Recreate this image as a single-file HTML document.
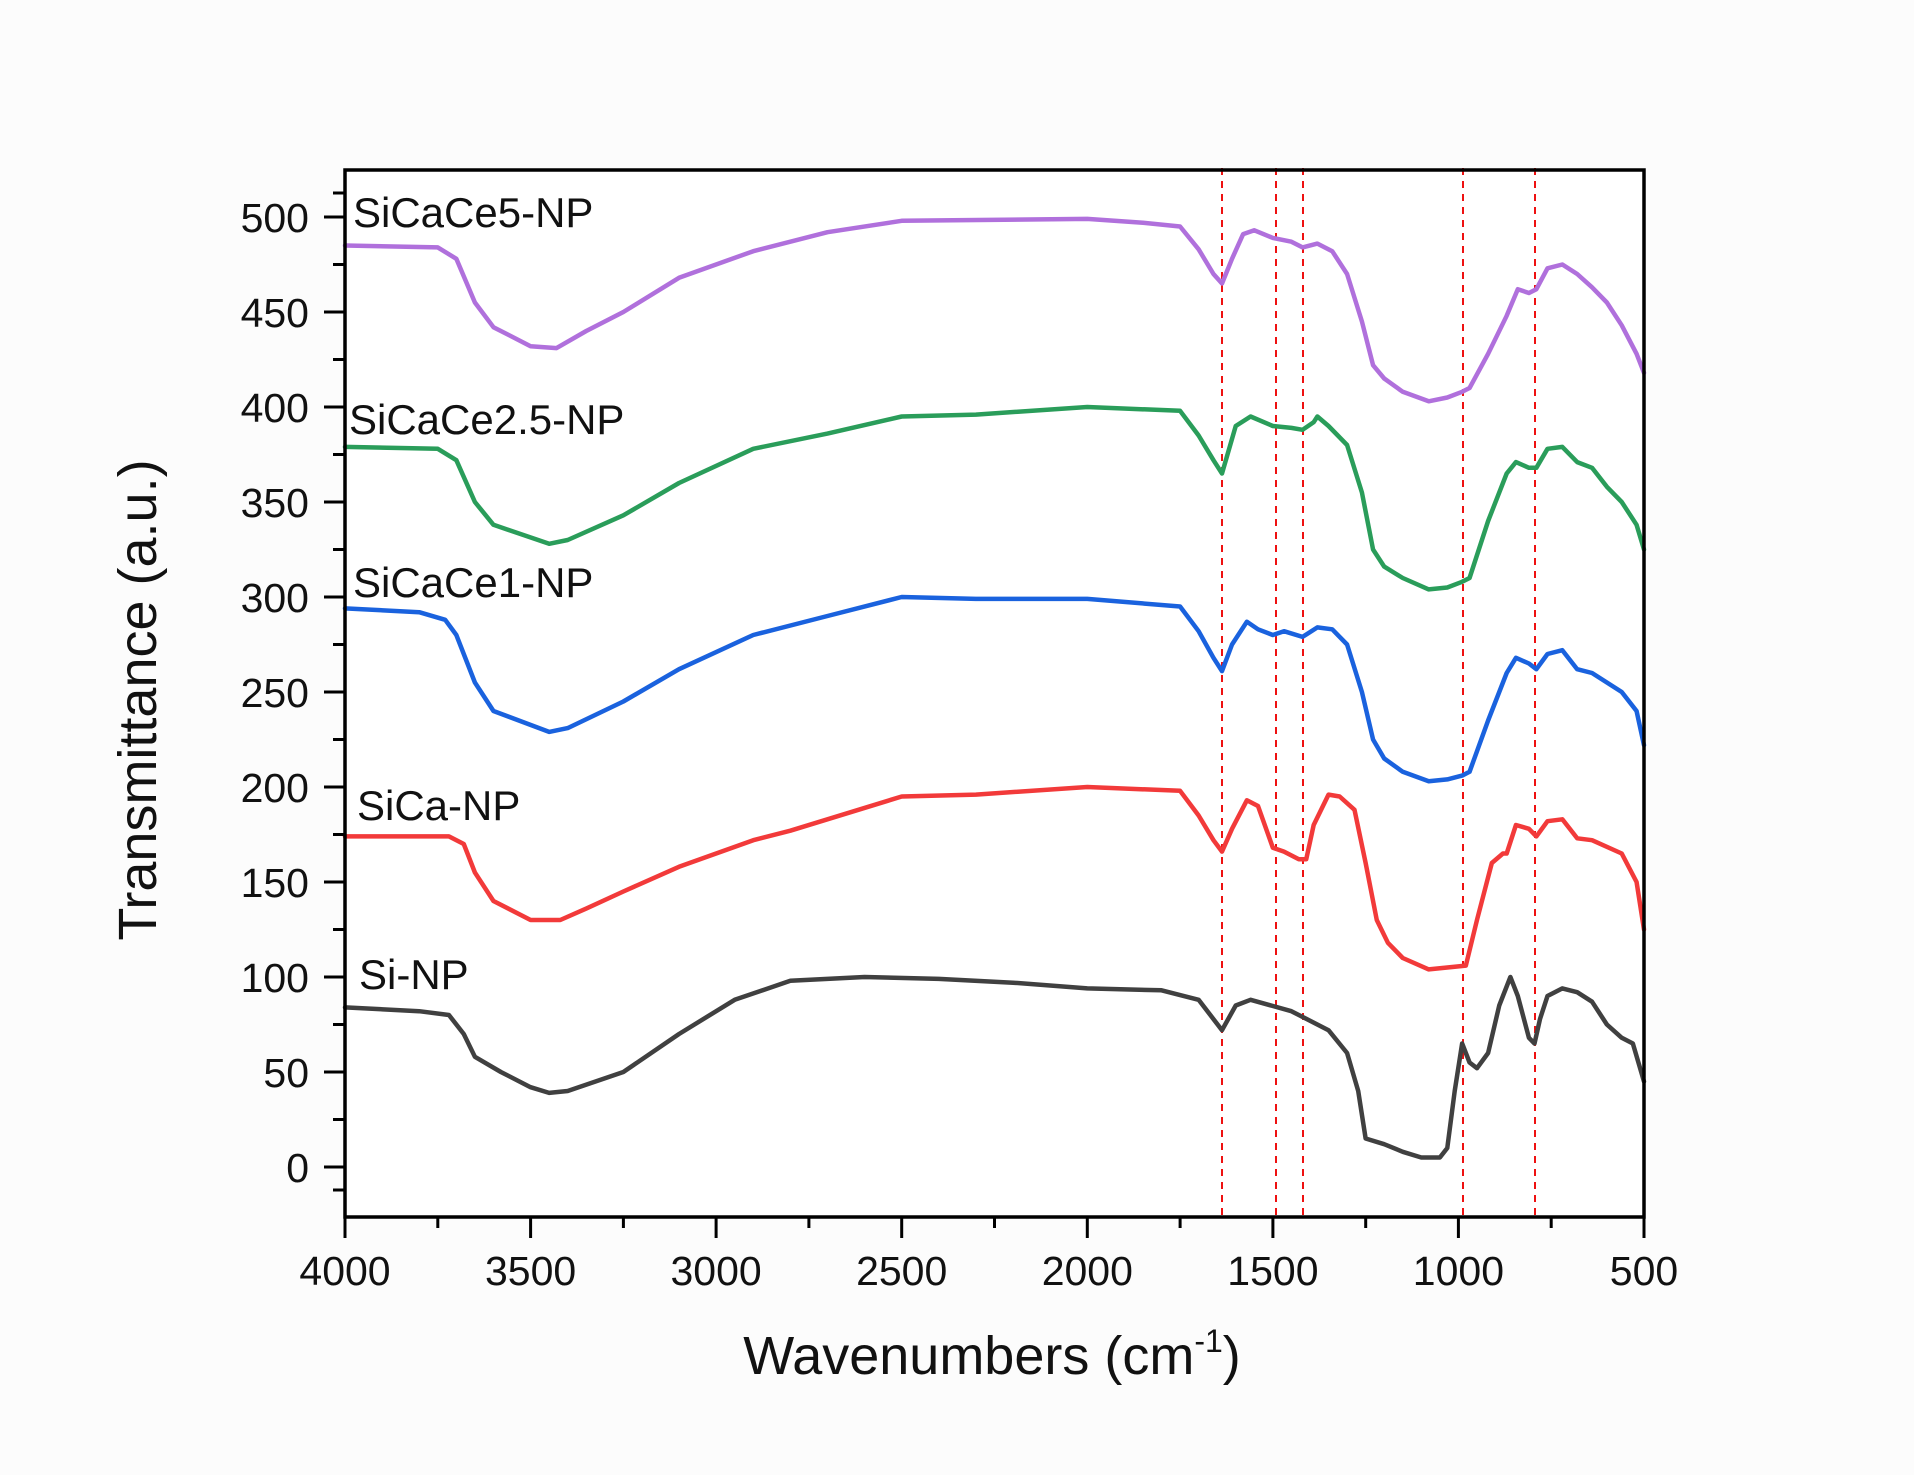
<!DOCTYPE html>
<html><head><meta charset="utf-8"><style>
html,body{margin:0;padding:0;background:#fcfcfc;}
svg{display:block;}
text{font-family:"Liberation Sans",Arial,sans-serif;fill:#111;}
</style></head><body>
<svg width="1914" height="1475" viewBox="0 0 1914 1475" xmlns="http://www.w3.org/2000/svg">
<rect x="0" y="0" width="1914" height="1475" fill="#fcfcfc"/>
<rect x="345" y="170" width="1299" height="1047" fill="#ffffff"/>
<g stroke="#ee1111" stroke-width="2" stroke-dasharray="7,6">
<line x1="1222" y1="168" x2="1222" y2="1217"/>
<line x1="1276" y1="168" x2="1276" y2="1217"/>
<line x1="1303" y1="168" x2="1303" y2="1217"/>
<line x1="1463" y1="168" x2="1463" y2="1217"/>
<line x1="1535" y1="168" x2="1535" y2="1217"/>
</g>
<g transform="matrix(-0.37114 0 0 -1.9 1829.56 1167)" fill="none" stroke-width="4.5" stroke-linejoin="round" stroke-linecap="round">
<polyline vector-effect="non-scaling-stroke" stroke="#b070dc" points="4000,485 3750,484 3700,478 3650,455 3600,442 3500,432 3430,431 3350,440 3250,450 3100,468 2900,482 2700,492 2500,498 2000,499 1850,497 1750,495 1700,483 1660,470 1637,465 1610,478 1580,491 1550,493 1500,489 1450,487 1420,484 1380,486 1340,482 1300,470 1260,445 1230,422 1200,415 1150,408 1080,403 1030,405 990,408 970,410 920,428 870,448 840,462 810,460 790,462 760,473 720,475 680,470 640,463 600,455 560,443 520,428 500,418"/>
<polyline vector-effect="non-scaling-stroke" stroke="#2a9d5a" points="4000,379 3750,378 3700,372 3650,350 3600,338 3450,328 3400,330 3250,343 3100,360 2900,378 2700,386 2500,395 2300,396 2000,400 1750,398 1700,385 1660,372 1637,365 1600,390 1560,395 1500,390 1450,389 1420,388 1390,392 1380,395 1350,390 1300,380 1260,355 1230,325 1200,316 1150,310 1080,304 1030,305 990,308 970,310 920,340 870,365 845,371 810,368 790,368 760,378 720,379 680,371 640,368 600,358 560,350 520,338 500,325"/>
<polyline vector-effect="non-scaling-stroke" stroke="#1a62de" points="4000,294 3800,292 3730,288 3700,280 3650,255 3600,240 3450,229 3400,231 3250,245 3100,262 2900,280 2700,290 2500,300 2300,299 2000,299 1750,295 1700,282 1660,268 1637,261 1610,275 1570,287 1540,283 1500,280 1470,282 1420,279 1380,284 1340,283 1300,275 1260,250 1230,225 1200,215 1150,208 1080,203 1030,204 990,206 970,208 920,235 870,260 845,268 810,265 790,262 760,270 720,272 680,262 640,260 600,255 560,250 520,240 500,222"/>
<polyline vector-effect="non-scaling-stroke" stroke="#f23a3a" points="4000,174 3720,174 3680,170 3650,155 3600,140 3500,130 3420,130 3350,136 3250,145 3100,158 2900,172 2800,177 2500,195 2300,196 2000,200 1750,198 1700,185 1660,172 1637,166 1610,178 1570,193 1540,190 1500,168 1470,166 1430,162 1410,162 1390,180 1350,196 1320,195 1280,188 1250,160 1220,130 1190,118 1150,110 1080,104 1030,105 980,106 950,130 910,160 880,165 870,165 845,180 810,178 790,174 760,182 720,183 680,173 640,172 560,165 520,150 500,125"/>
<polyline vector-effect="non-scaling-stroke" stroke="#404040" points="4000,84 3800,82 3720,80 3680,70 3650,58 3580,50 3500,42 3450,39 3400,40 3250,50 3100,70 2950,88 2800,98 2600,100 2400,99 2200,97 2000,94 1800,93 1700,88 1637,72 1600,85 1560,88 1450,82 1350,72 1300,60 1270,40 1250,15 1200,12 1150,8 1100,5 1050,5 1030,10 1010,40 990,65 970,55 950,52 920,60 890,85 860,100 840,90 810,68 795,65 780,78 760,90 720,94 680,92 640,87 600,75 560,68 530,65 500,45"/>
</g>
<rect x="345" y="170" width="1299" height="1047" fill="none" stroke="#000" stroke-width="3.5"/>
<g stroke="#000" stroke-width="3">
<line x1="345" y1="1217" x2="345" y2="1238"/><line x1="437.8" y1="1217" x2="437.8" y2="1228"/>
<line x1="530.6" y1="1217" x2="530.6" y2="1238"/><line x1="623.4" y1="1217" x2="623.4" y2="1228"/>
<line x1="716.1" y1="1217" x2="716.1" y2="1238"/><line x1="808.9" y1="1217" x2="808.9" y2="1228"/>
<line x1="901.7" y1="1217" x2="901.7" y2="1238"/><line x1="994.5" y1="1217" x2="994.5" y2="1228"/>
<line x1="1087.3" y1="1217" x2="1087.3" y2="1238"/><line x1="1180.1" y1="1217" x2="1180.1" y2="1228"/>
<line x1="1272.9" y1="1217" x2="1272.9" y2="1238"/><line x1="1365.7" y1="1217" x2="1365.7" y2="1228"/>
<line x1="1458.4" y1="1217" x2="1458.4" y2="1238"/><line x1="1551.2" y1="1217" x2="1551.2" y2="1228"/>
<line x1="1644" y1="1217" x2="1644" y2="1238"/>
</g>
<g stroke="#000" stroke-width="3">
<line x1="324" y1="1167" x2="345" y2="1167"/><line x1="333" y1="1119.5" x2="345" y2="1119.5"/>
<line x1="324" y1="1072" x2="345" y2="1072"/><line x1="333" y1="1024.5" x2="345" y2="1024.5"/>
<line x1="324" y1="977" x2="345" y2="977"/><line x1="333" y1="929.5" x2="345" y2="929.5"/>
<line x1="324" y1="882" x2="345" y2="882"/><line x1="333" y1="834.5" x2="345" y2="834.5"/>
<line x1="324" y1="787" x2="345" y2="787"/><line x1="333" y1="739.5" x2="345" y2="739.5"/>
<line x1="324" y1="692" x2="345" y2="692"/><line x1="333" y1="644.5" x2="345" y2="644.5"/>
<line x1="324" y1="597" x2="345" y2="597"/><line x1="333" y1="549.5" x2="345" y2="549.5"/>
<line x1="324" y1="502" x2="345" y2="502"/><line x1="333" y1="454.5" x2="345" y2="454.5"/>
<line x1="324" y1="407" x2="345" y2="407"/><line x1="333" y1="359.5" x2="345" y2="359.5"/>
<line x1="324" y1="312" x2="345" y2="312"/><line x1="333" y1="264.5" x2="345" y2="264.5"/>
<line x1="324" y1="217" x2="345" y2="217"/><line x1="333" y1="1190" x2="345" y2="1190"/><line x1="333" y1="193" x2="345" y2="193"/>
</g>
<g font-size="41" text-anchor="end">
<text x="309" y="1182">0</text><text x="309" y="1087">50</text><text x="309" y="992">100</text>
<text x="309" y="897">150</text><text x="309" y="802">200</text><text x="309" y="707">250</text>
<text x="309" y="612">300</text><text x="309" y="517">350</text><text x="309" y="422">400</text>
<text x="309" y="327">450</text><text x="309" y="232">500</text>
</g>
<g font-size="41" text-anchor="middle">
<text x="345" y="1285">4000</text><text x="530.6" y="1285">3500</text><text x="716.1" y="1285">3000</text>
<text x="901.7" y="1285">2500</text><text x="1087.3" y="1285">2000</text><text x="1272.9" y="1285">1500</text>
<text x="1458.4" y="1285">1000</text><text x="1644" y="1285">500</text>
</g>
<text x="992" y="1374" font-size="54" text-anchor="middle">Wavenumbers (cm<tspan font-size="32" dy="-22">-1</tspan><tspan dy="22">)</tspan></text>
<text transform="translate(156,700) rotate(-90)" font-size="54" text-anchor="middle">Transmittance (a.u.)</text>
<g font-size="42">
<text x="353" y="227">SiCaCe5-NP</text>
<text x="349" y="434">SiCaCe2.5-NP</text>
<text x="353" y="597">SiCaCe1-NP</text>
<text x="357" y="820">SiCa-NP</text>
<text x="359" y="989">Si-NP</text>
</g>
</svg>
</body></html>
